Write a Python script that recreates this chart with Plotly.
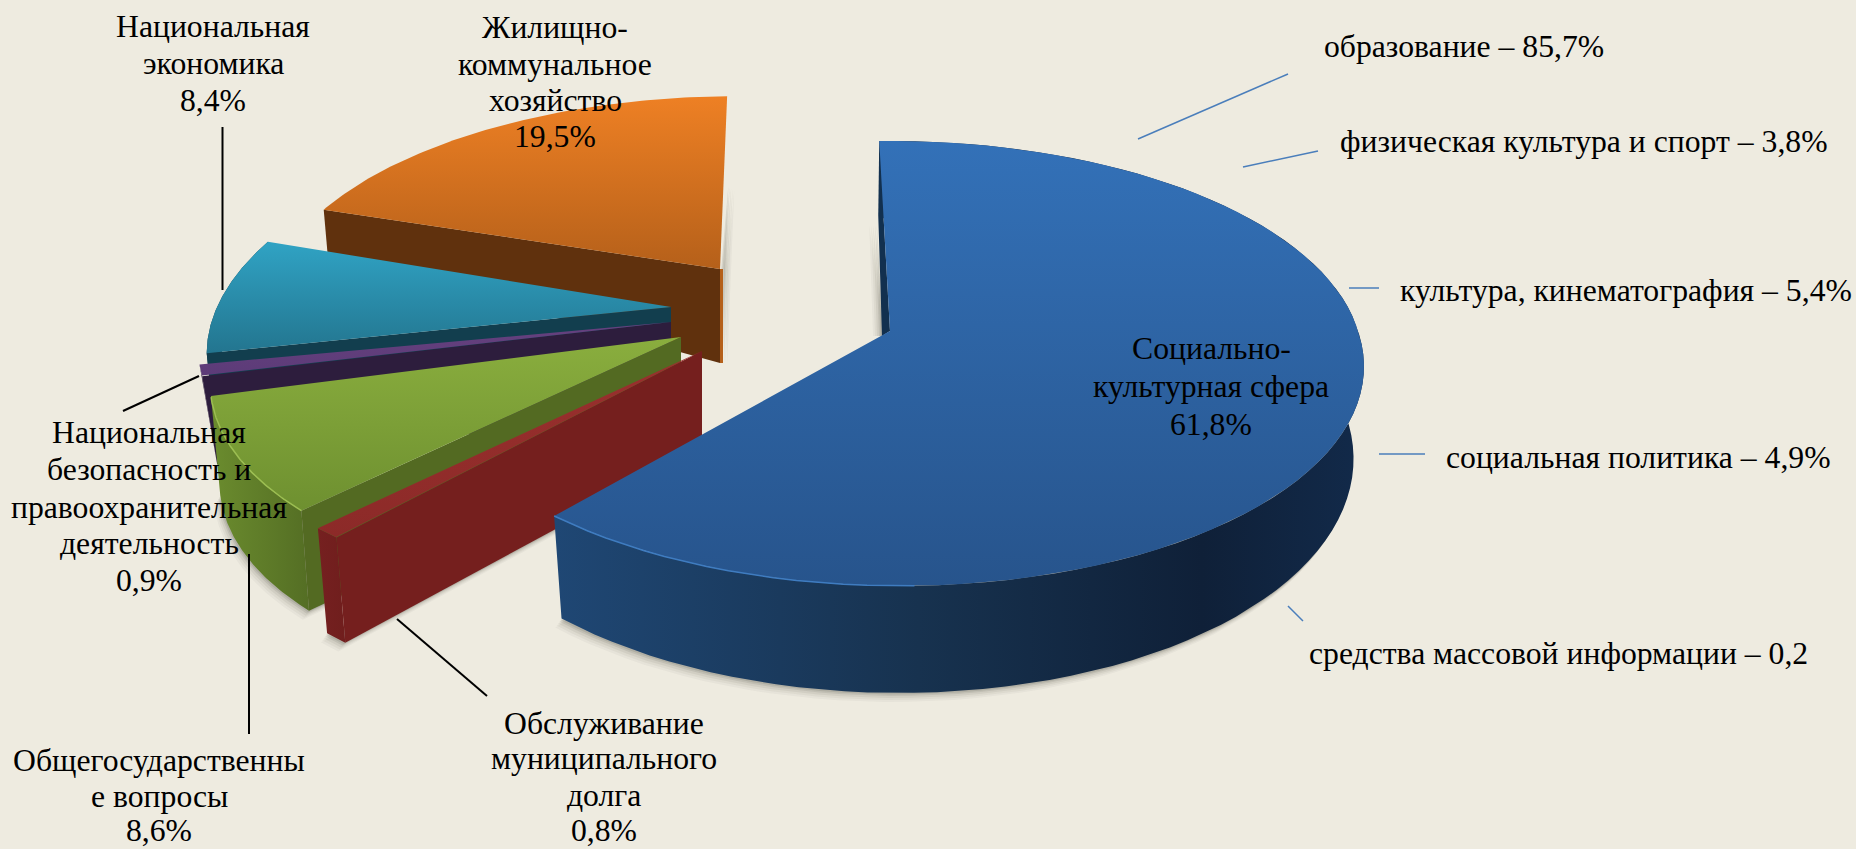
import numpy as np
import plotly.graph_objects as go

categories = ["Социально-культурная сфера", "Обслуживание муниципального долга",
              "Общегосударственные вопросы", "Национальная безопасность и правоохранительная деятельность",
              "Национальная экономика", "Жилищно-коммунальное хозяйство"]
values = [61.8, 0.8, 8.6, 0.9, 8.4, 19.5]

# drawing styles per slice
apex_x = [890, 702, 681, 671, 671, 720]
apex_y = [331, 351, 337, 322, 307, 269]
scale_x = [1.0, 1.065, 0.985, 1.0, 0.97, 0.945]
scale_y = [1.0, 1.02, 1.0, 0.92, 1.0, 0.91]
shear = [0, 0, -0.14, 0, -0.15, -0.1]
front_shear = [0.04, 0, 0, 0, 0, 0]
front_y = [1.012, 1, 1, 1, 1, 1]
wall_h = [90, 99, 100, 88, 45, 94]
wall_g = [0.067, 0.034, 0.0, 0.0, 0.0, 0.82]
wall_s = [0.978, 0.976, 0.98, 0.968, 0.99, 0.99]
top_cols = [("#3371B8", "#27548C"), ("#9A302E", "#8C2A28"), ("#8AAE3E", "#6E9030"),
            ("#66417F", "#5C3B78"), ("#30A3C4", "#23758F"), ("#EE8024", "#B5601A")]
side_cols = [[[0, "#1F4774"], [0.45, "#17324F"], [0.8, "#0F2038"], [1, "#122A4A"]],
             [[0, "#752020"], [1, "#701E1D"]],
             [[0, "#6B8C2E"], [1, "#546E24"]],
             [[0, "#2D1D3D"], [1, "#2D1D3D"]],
             [[0, "#123E4E"], [1, "#123E4E"]],
             [[0, "#60310D"], [1, "#60310D"]]]
cut_cols = ["#12304F", "#751F1E", "#536A22", "#2D1D3D", "#123E4E", "#60310D"]

X, A, K = 468.0, 216.6, 0.14
START = -1.5
fig = go.Figure()


def arc(i, t0, t1, n=90):
    t = np.radians(np.linspace(t0, t1, n))
    u, v = np.sin(t), np.cos(t)
    d = 1 + K * v
    dx = X * u / d * scale_x[i]
    dy = -A * v / d * scale_y[i]
    dx = dx + shear[i] * dy + front_shear[i] * np.maximum(dy, 0)
    dy = np.where(dy > 0, dy * front_y[i], dy)
    return dx, dy


def lower(i, dx, dy):
    return apex_x[i] + dx * wall_s[i], apex_y[i] + dy + wall_h[i] + wall_g[i] * dy


def poly(x, y, col0, col1=None, orient="vertical"):
    x, y = np.asarray(x, float), np.asarray(y, float)
    kw = {}
    if col1 is None:
        kw["fillcolor"] = col0
    else:
        a, b = (y.min(), y.max()) if orient == "vertical" else (x.min(), x.max())
        scale = col1 if isinstance(col1, list) else [[0, col0], [1, col1]]
        kw["fillgradient"] = dict(type=orient, start=a, stop=b, colorscale=scale)
    fig.add_trace(go.Scatter(x=np.r_[x, x[0]], y=np.r_[y, y[0]], mode="lines", fill="toself",
                             line=dict(width=0), hoverinfo="skip", showlegend=False, **kw))


angles = np.array(values) / sum(values) * 360
starts = START + np.r_[0, np.cumsum(angles)[:-1]]
slices = {}
for i in range(len(values)):
    dx, dy = arc(i, starts[i], starts[i] + angles[i])
    bx, by = lower(i, dx, dy)
    slices[i] = (dx, dy, bx, by)

SHADOW = ((9, 0.04), (7, 0.05), (5, 0.07), (3, 0.10), (1.5, 0.12))
for i in [5, 4, 3, 2, 1, 0]:
    dx, dy, bx, by = slices[i]
    ax, ay = apex_x[i], apex_y[i]
    tx, ty = ax + dx, ay + dy
    abx, aby = lower(i, 0.0, 0.0)
    # soft contact shadow beneath the wall
    if i in (0, 1, 2):
        for off, al in SHADOW:
            mask = by > ay + 70 if i == 0 else np.ones_like(by, bool)
            sx, sy = bx[mask], by[mask]
            poly(np.r_[abx, sx] - off * 0.7, np.r_[aby, sy] + off, f"rgba(60,55,45,{al})")
    if i == 5:
        for off, al in SHADOW:
            poly(np.r_[tx[-1], ax, abx] + off * 0.8, np.r_[ty[-1] + 90, ay, aby] + off * 0.3,
                 f"rgba(60,55,45,{al})")
    if i == 0:
        # shadow beside the cut wall at the back of the big slice
        for off, al in SHADOW:
            poly([tx[0] - 1 - off, ax - 8 - off, ax - 6], [ty[0] + 84, ay + 5, ay + 5],
                 f"rgba(60,55,45,{al})")
    # outer curved wall
    if i != 5:
        poly(np.r_[tx, bx[::-1]], np.r_[ty, by[::-1]], None, side_cols[i], "horizontal")
    # cut wall seen from the front
    if i == 0:
        poly([ax, tx[0], tx[0] - 1, ax - 8], [ay, ty[0], ty[0] + 74, ay + 5], cut_cols[i])
    else:
        poly([ax, tx[0], bx[0], abx], [ay, ty[0], by[0], aby], cut_cols[i])
    if i == 5:
        poly([ax, ax + 3, ax + 3, ax], [ay, ay, aby, aby], "#B5601A")
    # top face
    poly(np.r_[ax, tx], np.r_[ay, ty], top_cols[i][0], top_cols[i][1])
    # light rim along the front of the top face
    if i in (0, 2):
        mask = ty > ay + 60 if i == 2 else (tx < ax + 40) & (ty > ay)
        fig.add_trace(go.Scatter(x=tx[mask], y=ty[mask], mode="lines", hoverinfo="skip", showlegend=False,
                                 line=dict(color="#3F7CC0" if i == 0 else "#9CBE52", width=1.5)))

# labels: one annotation for each line, the source spaces its lines tightly
FONT = "Liberation Serif, Times New Roman, serif"
FS = 31.7
labels = [
    (213, [26, 63, 100], ["Национальная", "экономика", "8,4%"]),
    (555, [27, 64, 100, 136], ["Жилищно-", "коммунальное", "хозяйство", "19,5%"]),
    (1211, [348, 386, 424], ["Социально-", "культурная сфера", "61,8%"]),
    (149, [432, 469, 507, 543, 580], ["Национальная", "безопасность и", "правоохранительная", "деятельность", "0,9%"]),
    (159, [760, 796, 830], ["Общегосударственны", "е вопросы", "8,6%"]),
    (604, [723, 758, 795, 830], ["Обслуживание", "муниципального", "долга", "0,8%"]),
]
for x, ys, lines in labels:
    for y, t in zip(ys, lines):
        fig.add_annotation(x=x, y=y, text=t, showarrow=False, align="center", xanchor="center",
                           yanchor="middle", font=dict(family=FONT, size=FS, color="#000000"))
right_labels = [
    (1322, 46, "образование – 85,7%"),
    (1338, 141, "физическая культура и спорт – 3,8%"),
    (1398, 290, "культура, кинематография – 5,4%"),
    (1444, 457, "социальная политика – 4,9%"),
    (1307, 653, "средства массовой информации – 0,2"),
]
for x, y, t in right_labels:
    fig.add_annotation(x=x, y=y, text=t, showarrow=False, align="left", xanchor="left",
                       yanchor="middle", font=dict(family=FONT, size=FS, color="#000000"))

black_x = [[222.5, 222.5], [123, 199], [249, 249], [397, 487]]
black_y = [[127, 290], [411, 376], [554, 734], [619, 696]]
for x, y in zip(black_x, black_y):
    fig.add_trace(go.Scatter(x=x, y=y, mode="lines", line=dict(color="#000000", width=2),
                             hoverinfo="skip", showlegend=False))
blue_x = [[1288, 1138], [1318, 1243], [1349, 1379], [1379, 1425], [1288, 1303]]
blue_y = [[74, 139], [151, 167], [288, 288], [454, 454], [606, 621]]
for x, y in zip(blue_x, blue_y):
    fig.add_trace(go.Scatter(x=x, y=y, mode="lines", line=dict(color="#4A7EBB", width=1.5),
                             hoverinfo="skip", showlegend=False))

fig.update_layout(
    width=1856, height=849, margin=dict(l=0, r=0, t=0, b=0),
    paper_bgcolor="#EEEBE0", plot_bgcolor="#EEEBE0", showlegend=False,
    xaxis=dict(range=[0, 1856], visible=False, fixedrange=True),
    yaxis=dict(range=[849, 0], visible=False, fixedrange=True),
)
fig.write_html("out.html", config={"displayModeBar": False},
               post_script="document.body.style.margin='0';document.body.style.overflow='hidden';"
                           "document.body.style.background='#EEEBE0';")
